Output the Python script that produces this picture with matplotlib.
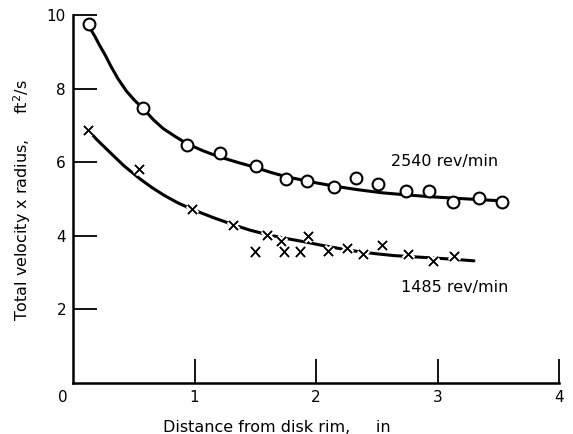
import numpy as np
import matplotlib
matplotlib.use("Agg")
import matplotlib.pyplot as plt
import matplotlib.patheffects as pe
import matplotlib.transforms as mtransforms

# measured points, 2540 rev/min (circles)
x_2540 = [0.13, 0.58, 0.94, 1.21, 1.51, 1.75, 1.93, 2.15, 2.33, 2.51, 2.74, 2.93, 3.13, 3.34, 3.53]
y_2540 = [9.75, 7.47, 6.46, 6.24, 5.91, 5.55, 5.48, 5.32, 5.58, 5.40, 5.23, 5.21, 4.92, 5.03, 4.92]

# faired curve through 2540 rev/min data
cx_2540 = [0.13, 0.18, 0.22, 0.27, 0.31, 0.37, 0.44, 0.51, 0.58, 0.66, 0.74, 0.84, 0.94,
           1.07, 1.2, 1.35, 1.5, 1.62, 1.75, 1.88, 2.0, 2.15, 2.35, 2.54, 2.75, 2.95, 3.15, 3.36, 3.53]
cy_2540 = [9.70, 9.42, 9.17, 8.88, 8.62, 8.27, 7.93, 7.67, 7.45, 7.16, 6.92, 6.70, 6.50,
           6.31, 6.15, 6.00, 5.86, 5.73, 5.61, 5.52, 5.44, 5.35, 5.25, 5.17, 5.11, 5.06, 5.02, 4.98, 4.95]

# measured points, 1485 rev/min (crosses)
x_1485 = [0.13, 0.55, 0.98, 1.32, 1.50, 1.60, 1.72, 1.74, 1.87, 1.94, 2.10, 2.26, 2.39, 2.55, 2.76, 2.97, 3.14]
y_1485 = [6.85, 5.80, 4.72, 4.29, 3.56, 4.00, 3.85, 3.56, 3.56, 3.98, 3.57, 3.65, 3.49, 3.73, 3.49, 3.30, 3.43]

# faired curve through 1485 rev/min data
cx_1485 = [0.13, 0.2, 0.3, 0.42, 0.55, 0.65, 0.75, 0.86, 0.98, 1.15, 1.32, 1.45, 1.6, 1.75,
           1.9, 2.05, 2.2, 2.35, 2.5, 2.65, 2.8, 2.95, 3.1, 3.3]
cy_1485 = [6.85, 6.60, 6.28, 5.90, 5.55, 5.31, 5.10, 4.90, 4.72, 4.50, 4.30, 4.16, 4.03, 3.93,
           3.84, 3.74, 3.65, 3.57, 3.51, 3.46, 3.43, 3.40, 3.37, 3.32]

x_ticks = [0, 1, 2, 3, 4]
x_tick_labels = ["0", "1", "2", "3", "4"]
y_ticks = [2, 4, 6, 8, 10]
y_tick_labels = ["2", "4", "6", "8", "10"]

plt.rcParams['font.family'] = ['DejaVu Sans']

fig = plt.figure(figsize=(5.73, 4.34), dpi=100)
ax = fig.add_axes([73 / 573, 1 - 383 / 434, (559 - 73) / 573, (383 - 15) / 434])

ax.plot(cx_2540, cy_2540, color='black', lw=2.2, solid_capstyle='round', solid_joinstyle='round')
ax.plot(cx_1485, cy_1485, color='black', lw=2.2, solid_capstyle='round', solid_joinstyle='round')

ax.plot(x_2540, y_2540, linestyle='none', marker='o', ms=8.5,
        mfc='white', mec='black', mew=1.5)
ax.plot(x_1485, y_1485, linestyle='none', marker='x', ms=6.5, color='black', mew=1.1,
        path_effects=[pe.withStroke(linewidth=4.5, foreground='white'), pe.Normal()])

ax.text(2.62, 6.02, "2540 rev/min", fontsize=11.5, ha='left', va='center')
ax.text(2.70, 2.59, "1485 rev/min", fontsize=11.5, ha='left', va='center')

ax.set_xlim(0, 4)
ax.set_ylim(0, 10)
for s in ['top', 'right']:
    ax.spines[s].set_visible(False)
for s in ['left', 'bottom']:
    ax.spines[s].set_linewidth(1.8)

ax.set_xticks(x_ticks)
ax.set_xticklabels(x_tick_labels, fontsize=11)
ax.set_yticks(y_ticks)
ax.set_yticklabels(y_tick_labels, fontsize=11)
ax.tick_params(direction='in', length=17, width=1.3, pad=5)

# no tick mark at the origin, and its "0" sits a bit to the left
ax.xaxis.get_major_ticks()[0].tick1line.set_visible(False)
zero_lbl = ax.get_xticklabels()[0]
zero_lbl.set_transform(zero_lbl.get_transform() +
                       mtransforms.ScaledTranslation(-10 / 100, 0, fig.dpi_scale_trans))

fig.text(277 / 573, 1 - 427 / 434, "Distance from disk rim,     in",
         fontsize=11.5, ha='center', va='center')
fig.text(22 / 573, 1 - 200 / 434, "Total velocity x radius,     ft$^2$/s",
         fontsize=11.5, ha='center', va='center', rotation=90)

fig.savefig("out.png", dpi=100)
